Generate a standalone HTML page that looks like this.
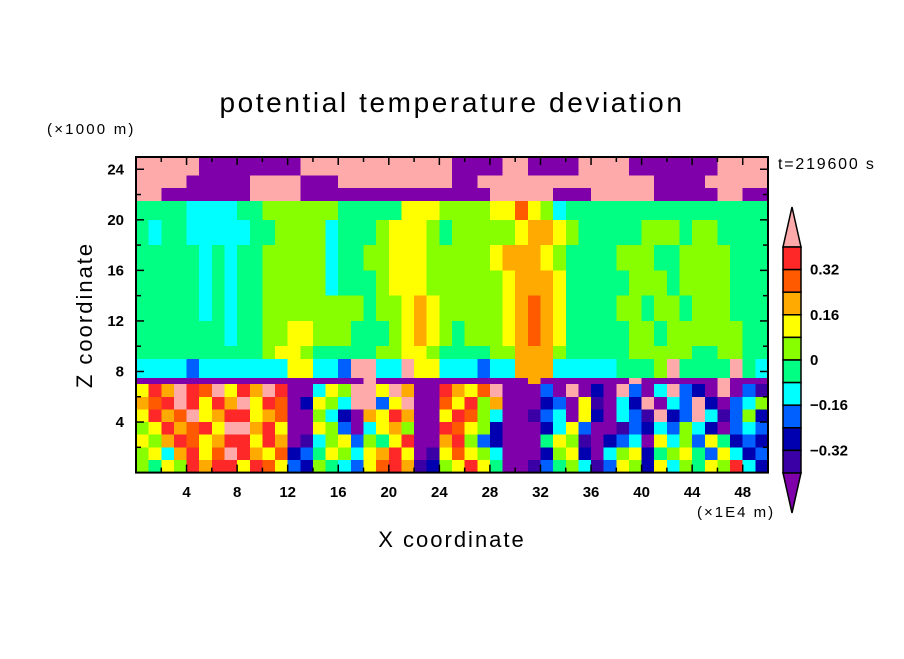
<!DOCTYPE html>
<html><head><meta charset="utf-8"><style>
body{margin:0;background:#fff;width:904px;height:654px;overflow:hidden}
svg text{font-family:"Liberation Sans",sans-serif}
</style></head><body>
<svg id="chart" width="904" height="654" viewBox="0 0 904 654" xmlns="http://www.w3.org/2000/svg">
<text x="452" y="112" font-size="28" text-anchor="middle" letter-spacing="2.6">potential temperature deviation</text>
<text x="47" y="134" font-size="15" letter-spacing="2.2">(×1000 m)</text>
<text x="778" y="169" font-size="16" letter-spacing="1.8">t=219600 s</text>
<text transform="translate(92,315) rotate(-90)" font-size="22" letter-spacing="2" text-anchor="middle">Z coordinate</text>
<text x="452" y="547" font-size="22" letter-spacing="2" text-anchor="middle">X coordinate</text>
<text x="697" y="517" font-size="15" letter-spacing="2">(×1E4 m)</text>
<g id="field" shape-rendering="crispEdges"></g>
<g id="axes"></g>
<g id="cbar"></g>
</svg>
<script>
const levelCodes = "abcdefghijkl";
const levelColors = ["#7f00aa","#3a00a6","#0000b0","#0060ff","#00ffff","#00ff82","#88ff00","#ffff00","#ffaa00","#ff5a00","#ff2828","#ffaaaa"];
const cbarLabels = ["0.32","0.16","0","\u22120.16","\u22120.32"];
const cbarLabelIdx = [1,3,5,7,9];
const xTicks = [4,8,12,16,20,24,28,32,36,40,44,48];
const yTicks = [4,8,12,16,20,24];
const zEdges = [25,23.5,22.5,21.5,20,18,16,14,12,10,9,7.5,7,6,5,4,3,2,1,0];
const fieldRows = [
"lllllaaaaaaaallllllllllllaaaallaaaallllaaaaaaallll",
"llllaaaaallllaaalllllllllaallllllllllllllaaaalllll",
"llaaaaaaallllaaaaaaaaaaaaaaalllllaaalllllaaaaalla",
"ffffeeeeffggggggfffffhhhgggghhjhgefffffffffffffff",
"feffeeeeeffggggefffghhhgfggggghiihgfffffgggfggffff",
"fffffefeffgggggeffgghhhggggghiiihgffffgggffggggff",
"fffffefeffgggggefffghhhgggggghiiihfffffgggfggggfff",
"fffffefeffggggggggfgghihggggghijihffffggfggfgggfff",
"fffffffeffgghhgggfffghihgfggghijihfffffggfggggggfff",
"ffffffffffghhgfffffgghhgffffggiiigfffffgggggffggff",
"eeeedeeeeeeehheedlleelhheeedeeiiieeeeefffglfffflfe",
"aaaaaaaaaaaaaaaaaalaaaaaaaaaaaaiaaaaaaalaaaaaalaaa",
"hkilkjlhkilkaaehgllhliaakihjlaaadalacaldaeldcaladb",
"ijklkhkilhkjachgelldhlaajhkgiaaacdahbaeclaedlcadeg",
"hkijlhikkhijaagecaihkiaahkjgeaabdeahcaedblcdlebdgc",
"ghkijkhllikhaahgdaehigaakjhgcaaacehdaabdcedgecaded",
"hgikjhikkhkiabeghdgfhkaaikgdcaaafhgbacdeahegdhfcdc",
"gheikhjlkihjcdfhgehikhabhjhgeaaacghcaeghcfghfdhecd",
"gfhgkikkhkjhdcgfedhjkibcghkhfaabdfgebdhgchegfhgkec"
];
(function(){
const X0=136,X1=768,Y0=157,Y1=472.6,XMAX=50,ZMAX=24.97;
const sx=v=>X0+(X1-X0)*v/XMAX;
const sy=v=>Y1-(Y1-Y0)*v/ZMAX;
const NS="http://www.w3.org/2000/svg";
function mk(tag,attrs,parent){const e=document.createElementNS(NS,tag);for(const k in attrs)e.setAttribute(k,attrs[k]);parent.appendChild(e);return e;}
const field=document.getElementById('field');
fieldRows.forEach((row,r)=>{
  const zt=Math.min(zEdges[r],ZMAX), zb=zEdges[r+1];
  const n=Math.min(row.length,XMAX);
  for(let c=0;c<XMAX;c++){
    const ch=row[Math.min(c,n-1)];
    const lv=levelCodes.indexOf(ch);
    const x=sx(c), w=sx(c+1)-x+0.5;
    const y=sy(zt), h=sy(zb)-y+0.5;
    const rc=mk('rect',{x:x,y:y,width:w,height:h,fill:levelColors[lv]},field);
    
    
  }
});
const axes=document.getElementById('axes');
const fr=mk('rect',{x:X0,y:Y0,width:X1-X0,height:Y1-Y0,fill:'none',stroke:'#000','stroke-width':2},axes);


for(let v=2;v<XMAX;v+=2){
  const L=(v%4===0)?8:5,x=sx(v);
  mk('line',{x1:x,x2:x,y1:Y1,y2:Y1-L,stroke:'#000','stroke-width':1.5},axes);
  mk('line',{x1:x,x2:x,y1:Y0,y2:Y0+L,stroke:'#000','stroke-width':1.5},axes);
}
for(let v=2;v<ZMAX;v+=2){
  const L=(v%4===0)?8:5,y=sy(v);
  mk('line',{x1:X0,x2:X0+L,y1:y,y2:y,stroke:'#000','stroke-width':1.5},axes);
  mk('line',{x1:X1,x2:X1-L,y1:y,y2:y,stroke:'#000','stroke-width':1.5},axes);
}
xTicks.forEach(v=>{
  const t=mk('text',{x:sx(v),y:497,'font-size':15,'font-weight':'bold','text-anchor':'middle'},axes);
  t.textContent=v;
  
  
});
yTicks.forEach(v=>{
  const t=mk('text',{x:124,y:sy(v)+5,'font-size':15,'font-weight':'bold','text-anchor':'end'},axes);
  t.textContent=v;
  
  
});
const cb=document.getElementById('cbar');
const CX=783,CW=18,CT=247,BH=22.6,nb=10;
const topArrow=mk('polygon',{points:`${CX},${CT} ${CX+CW},${CT} ${CX+CW/2},${CT-40}`,fill:levelColors[11],stroke:'#000','stroke-width':1.5},cb);


for(let i=0;i<nb;i++){
  const r=mk('rect',{x:CX,y:CT+i*BH,width:CW,height:BH,fill:levelColors[10-i],stroke:'#000','stroke-width':1.5},cb);
  
  
}
const yb=CT+nb*BH;
const botArrow=mk('polygon',{points:`${CX},${yb} ${CX+CW},${yb} ${CX+CW/2},${yb+40}`,fill:levelColors[0],stroke:'#000','stroke-width':1.5},cb);


cbarLabels.forEach((s,i)=>{
  const t=mk('text',{x:810,y:CT+cbarLabelIdx[i]*BH+5,'font-size':15,'font-weight':'bold'},cb);
  t.textContent=s;
  
  
});
})();
</script>
</body></html>
